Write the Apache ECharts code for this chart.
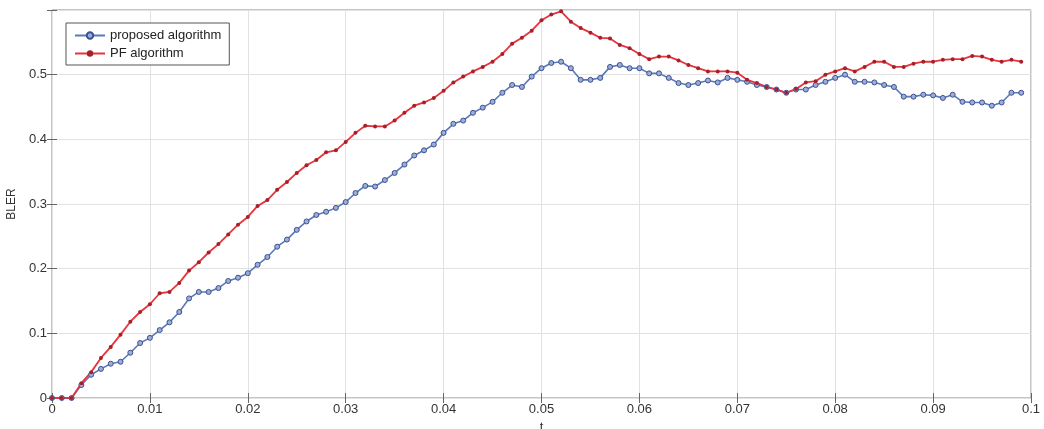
<!DOCTYPE html>
<html>
<head>
<meta charset="utf-8">
<script src="https://cdn.jsdelivr.net/npm/echarts@6/dist/echarts.min.js"></script>
<style>
  html, body { margin: 0; padding: 0; background: #fff; }
  #chart { width: 1044px; height: 429px; }
</style>
</head>
<body>
<div id="chart"></div>
<script>
// t from 0 to 0.099, step 0.001
var tValues = [];
for (var k = 0; k < 100; k++) tValues.push(+(k * 0.001).toFixed(3));

var proposed = [
  0, 0, 0, 0.02, 0.036, 0.045, 0.053, 0.056, 0.07, 0.085,
  0.093, 0.105, 0.117, 0.133, 0.154, 0.164, 0.164, 0.17, 0.181, 0.186,
  0.193, 0.206, 0.218, 0.234, 0.245, 0.26, 0.273, 0.283, 0.288, 0.294,
  0.303, 0.317, 0.328, 0.327, 0.337, 0.348, 0.361, 0.375, 0.383, 0.392,
  0.41, 0.424, 0.429, 0.441, 0.449, 0.458, 0.472, 0.484, 0.481, 0.497,
  0.51, 0.518, 0.52, 0.51, 0.492, 0.492, 0.495, 0.512, 0.515, 0.51,
  0.51, 0.502, 0.502, 0.495, 0.487, 0.484, 0.487, 0.491, 0.488, 0.495,
  0.492, 0.489, 0.484, 0.481, 0.477, 0.472, 0.477, 0.477, 0.484, 0.489,
  0.495, 0.5, 0.489, 0.489, 0.488, 0.484, 0.481, 0.466, 0.466, 0.469,
  0.468, 0.464, 0.469, 0.458, 0.457, 0.457, 0.452, 0.457, 0.472, 0.472
];

var pf = [
  0, 0, 0, 0.023, 0.04, 0.062, 0.079, 0.098, 0.118, 0.133,
  0.145, 0.162, 0.164, 0.178, 0.197, 0.21, 0.225, 0.238, 0.253, 0.268,
  0.28, 0.297, 0.306, 0.322, 0.334, 0.348, 0.36, 0.368, 0.38, 0.383,
  0.396, 0.41, 0.421, 0.42, 0.42, 0.429, 0.441, 0.452, 0.457, 0.464,
  0.475, 0.488, 0.497, 0.505, 0.512, 0.52, 0.532, 0.548, 0.557, 0.568,
  0.584, 0.593, 0.598, 0.582, 0.572, 0.565, 0.557, 0.556, 0.546, 0.541,
  0.532, 0.524, 0.528, 0.528, 0.522, 0.515, 0.51, 0.505, 0.505, 0.505,
  0.503, 0.492, 0.487, 0.481, 0.477, 0.472, 0.478, 0.488, 0.49, 0.5,
  0.505, 0.51, 0.505, 0.512, 0.52, 0.52, 0.512, 0.512, 0.517, 0.52,
  0.52, 0.523, 0.524, 0.524, 0.529, 0.528, 0.523, 0.52, 0.523, 0.52
];

var xTickLabels = ['0', '0.01', '0.02', '0.03', '0.04', '0.05', '0.06', '0.07', '0.08', '0.09', '0.1'];
var yTickLabels = ['0', '0.1', '0.2', '0.3', '0.4', '0.5', ''];

function pairs(ys) {
  var out = [];
  for (var i = 0; i < ys.length; i++) out.push([tValues[i], ys[i]]);
  return out;
}

var myChart = echarts.init(document.getElementById('chart'));
var fontFam = 'Liberation Sans, Arial, sans-serif';
var option = {
  animation: false,
  backgroundColor: '#fff',
  grid: {
    left: 52, right: 13, top: 10, bottom: 31,
    outerBoundsMode: 'none',
    containLabel: false,
    show: true, borderColor: '#8a8a8a', borderWidth: 1
  },
  legend: {
    orient: 'vertical',
    left: 66, top: 23,
    padding: [6, 8, 5, 8],
    itemGap: 5,
    itemWidth: 30, itemHeight: 8,
    backgroundColor: '#fff',
    borderColor: '#555',
    borderWidth: 1,
    borderRadius: 0,
    textStyle: { fontFamily: fontFam, fontSize: 13, color: '#222' },
    data: ['proposed algorithm', 'PF algorithm']
  },
  xAxis: [{
    type: 'value', min: 0, max: 0.1, interval: 0.01,
    name: 't', nameLocation: 'middle', nameGap: 19,
    nameTextStyle: { fontFamily: fontFam, fontSize: 13, color: '#333' },
    axisLine: { show: false },
    axisTick: { inside: true, length: 5, lineStyle: { color: '#666' } },
    axisLabel: {
      fontFamily: fontFam, fontSize: 13, color: '#333', margin: 5,
      formatter: function (v) { return xTickLabels[Math.round(v / 0.01)]; }
    },
    splitLine: { show: true, lineStyle: { color: '#e2e2e2', width: 1 } }
  }, {
    type: 'value', min: 0, max: 0.1, interval: 0.01, position: 'top',
    axisLine: { show: false },
    axisTick: { inside: true, length: 5, lineStyle: { color: '#666' } },
    axisLabel: { show: false },
    splitLine: { show: false }
  }],
  yAxis: [{
    type: 'value', min: 0, max: 0.6, interval: 0.1,
    name: 'BLER', nameLocation: 'middle', nameGap: 23,
    nameTextStyle: { fontFamily: fontFam, fontSize: 12, color: '#333' },
    axisLine: { show: false },
    axisTick: { inside: true, length: 5, lineStyle: { color: '#666' } },
    axisLabel: {
      fontFamily: fontFam, fontSize: 13, color: '#333', margin: 5,
      formatter: function (v) { return yTickLabels[Math.round(v / 0.1)]; }
    },
    splitLine: { show: true, lineStyle: { color: '#e2e2e2', width: 1 } }
  }, {
    type: 'value', min: 0, max: 0.6, interval: 0.1, position: 'right',
    axisLine: { show: false },
    axisTick: { inside: true, length: 5, lineStyle: { color: '#666' } },
    axisLabel: { show: false },
    splitLine: { show: false }
  }],
  series: [{
    name: 'proposed algorithm',
    type: 'line',
    data: pairs(proposed),
    symbol: 'circle',
    symbolSize: 5,
    lineStyle: { color: '#5a78bc', width: 1.6 },
    itemStyle: { color: '#9aaed6', borderColor: '#3d5192', borderWidth: 1 }
  }, {
    name: 'PF algorithm',
    type: 'line',
    data: pairs(pf),
    symbol: 'circle',
    symbolSize: 4,
    lineStyle: { color: '#e8343c', width: 1.8 },
    itemStyle: { color: '#a5202a', borderColor: '#a5202a', borderWidth: 0 }
  }]
};
myChart.setOption(option);
</script>
</body>
</html>
